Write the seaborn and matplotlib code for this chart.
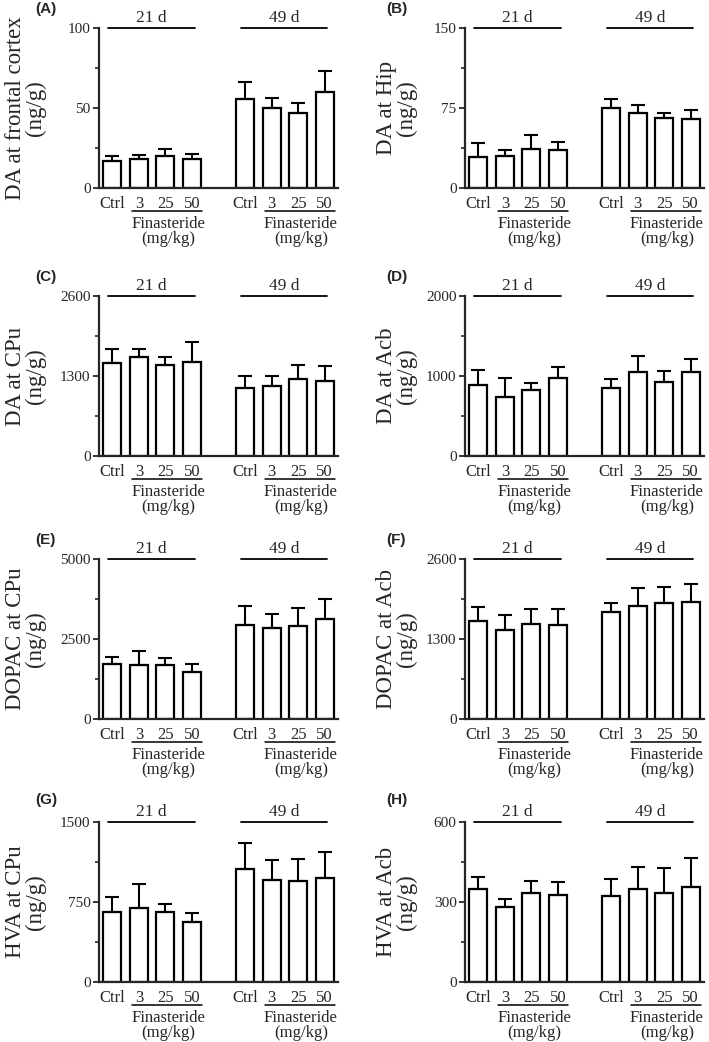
import numpy as np
import pandas as pd
import matplotlib
matplotlib.use("Agg")
import matplotlib.pyplot as plt
import matplotlib.transforms as mtransforms
from matplotlib.ticker import FixedLocator
import seaborn as sns

sns.set_style("ticks")
plt.rcParams['font.family'] = ['Liberation Serif', 'DejaVu Serif']

days = ["21 d", "49 d"]
doses = ["Ctrl", "3", "25", "50"]
panel_letters = ["(A)", "(B)", "(C)", "(D)", "(E)", "(F)", "(G)", "(H)"]
ylabels = ["DA at frontal cortex", "DA at Hip", "DA at CPu", "DA at Acb",
           "DOPAC at CPu", "DOPAC at Acb", "HVA at CPu", "HVA at Acb"]
ymaxes = [100, 150, 2600, 2000, 5000, 2600, 1500, 600]

mean_A = [16.7, 18.0, 19.7, 18.0, 55.4, 50.2, 46.7, 60.3]
sem_A = [3.4, 2.7, 4.8, 3.1, 10.7, 5.9, 6.2, 12.9]
mean_B = [28.6, 29.6, 36.7, 35.5, 75.3, 70.6, 65.7, 65.0]
sem_B = [13.4, 5.6, 13.4, 7.4, 8.4, 7.2, 4.6, 8.1]
mean_C = [1504, 1602, 1471, 1526, 1106, 1144, 1253, 1221]
sem_C = [234, 136, 137, 321, 186, 148, 229, 245]
mean_D = [888, 737, 821, 973, 851, 1053, 931, 1044]
sem_D = [181, 244, 88, 143, 109, 198, 130, 173]
mean_E = [1722, 1701, 1681, 1482, 2944, 2829, 2891, 3132]
sem_E = [230, 439, 240, 251, 584, 438, 564, 626]
mean_F = [1585, 1448, 1547, 1525, 1744, 1832, 1887, 1903]
sem_F = [231, 247, 247, 263, 137, 302, 258, 291]
mean_G = [652, 696, 655, 564, 1056, 955, 949, 971]
sem_G = [145, 221, 76, 82, 249, 189, 204, 249]
mean_H = [348, 280, 333, 326, 322, 350, 332, 356]
sem_H = [44, 32, 44, 48, 65, 80, 97, 109]

means = [mean_A, mean_B, mean_C, mean_D, mean_E, mean_F, mean_G, mean_H]
sems = [sem_A, sem_B, sem_C, sem_D, sem_E, sem_F, sem_G, sem_H]

W, H = 709, 1042
fig = plt.figure(figsize=(W / 100, H / 100), dpi=100)

col_left_px = [99, 465]
ax_w_px = 239
row_top_px = [28, 296, 559, 822]
ax_h_px = 160
letter_x_px = [35, 386]
letter_top_px = [2, 270, 533, 793]
ylabel_x = [-0.22, -0.20]

keys = [f"{d}|{g}" for d in days for g in doses]
order = keys[:4] + ["gap"] + keys[4:]
xt_labels = doses + [""] + doses

for i in range(8):
    row, col = divmod(i, 2)
    left = col_left_px[col] / W
    bottom = 1 - (row_top_px[row] + ax_h_px) / H
    ax = fig.add_axes([left, bottom, ax_w_px / W, ax_h_px / H])

    df = pd.DataFrame({"key": keys, "value": means[i]})
    sns.barplot(data=df, x="key", y="value", order=order, color="white",
                saturation=1, edgecolor="black", linewidth=1.6, width=0.68,
                errorbar=None, ax=ax)
    xs = [order.index(k) for k in keys]
    ax.errorbar(xs, means[i], yerr=[np.zeros(len(keys)), sems[i]], fmt="none",
                ecolor="black", elinewidth=1.5, capsize=5, capthick=1.5, zorder=1)

    ymax = ymaxes[i]
    ax.set_xlim(-0.5, 8.5)
    ax.set_ylim(0, ymax)
    ax.set_yticks([0, ymax / 2, ymax])
    ax.set_yticklabels([f"{v:g}" for v in [0, ymax / 2, ymax]])
    ax.yaxis.set_minor_locator(FixedLocator([ymax / 4, 3 * ymax / 4]))
    ax.set_xticks(range(len(order)))
    ax.set_xticklabels(xt_labels)
    ax.tick_params(axis="y", which="major", length=4, width=1.3, labelsize=11,
                   pad=2, direction="out")
    ax.tick_params(axis="y", which="minor", length=3, width=1.2, direction="out")
    ax.tick_params(axis="x", length=0, pad=6, labelsize=12)
    sns.despine(ax=ax)
    for s in ["left", "bottom"]:
        ax.spines[s].set_linewidth(1.6)
    ax.set_xlabel("")
    ax.set_ylabel(f"{ylabels[i]}\n(ng/g)", fontsize=16.5, linespacing=0.95)
    ax.yaxis.set_label_coords(ylabel_x[col], 0.5)

    trans = mtransforms.blended_transform_factory(ax.transData, ax.transAxes)
    for g, off in zip(days, [0, 5]):
        ax.plot([off - 0.15, off + 3.1], [1, 1], transform=trans, clip_on=False,
                color="black", lw=1.3)
        ax.annotate(g, xy=(off + 1.47, 1), xycoords=trans, xytext=(0, 1.5),
                    textcoords="offset points", ha="center", va="bottom",
                    fontsize=12.5)
        ax.plot([off + 0.76, off + 3.38], [-0.144, -0.144], transform=trans,
                clip_on=False, color="black", lw=1.1)
        ax.text(off + 2.1, -0.172, "Finasteride\n(mg/kg)", transform=trans,
                ha="center", va="top", fontsize=12, linespacing=0.92)

    fig.text(letter_x_px[col] / W, 1 - letter_top_px[row] / H, panel_letters[i],
             family=["Liberation Sans", "DejaVu Sans"], fontweight="bold",
             fontsize=11, ha="left", va="top")

fig.savefig("out.png", dpi=100)
